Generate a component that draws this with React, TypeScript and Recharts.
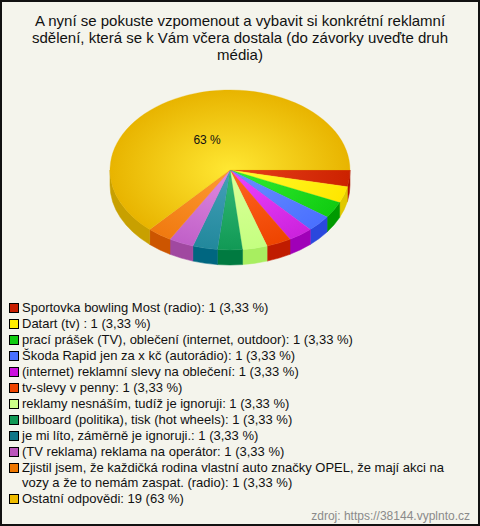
import React from 'react';
import { PieChart, Pie, Cell, Legend } from 'recharts';

const labels = [
  'Sportovka bowling Most (radio)',
  'Datart (tv) ',
  'prací prášek (TV), oblečení (internet, outdoor)',
  'Škoda Rapid jen za x kč (autorádio)',
  '(internet) reklamní slevy na oblečení',
  'tv-slevy v penny',
  'reklamy nesnáším, tudíž je ignoruji',
  'billboard (politika), tisk (hot wheels)',
  'je mi líto, záměrně je ignoruji.',
  '(TV reklama) reklama na operátor',
  'Zjistil jsem, že každičká rodina vlastní auto značky OPEL, že mají akci na vozy a že to nemám zaspat. (radio)',
  'Ostatní odpovědi',
];
const counts = [1, 1, 1, 1, 1, 1, 1, 1, 1, 1, 1, 19];
const percents = ['3,33 %', '3,33 %', '3,33 %', '3,33 %', '3,33 %', '3,33 %', '3,33 %', '3,33 %', '3,33 %', '3,33 %', '3,33 %', '63 %'];

// top face: [light centre, edge], side wall colour, legend marker colour
const topLight = ['#e8401c', '#ffff30', '#33ee33', '#6a90ff', '#ee44ff', '#ff6622', '#ddff99', '#33bb77', '#44a0b8', '#e08ae0', '#ff9a33', '#ffe833'];
const topEdge = ['#cc2200', '#ffe600', '#11cc11', '#4a70ff', '#cc22dd', '#ee4400', '#c4ff80', '#119955', '#22889c', '#c060c8', '#f07a10', '#e8b400'];
const sideColors = ['#b01400', '#e0c800', '#009a00', '#2a48dd', '#a000b8', '#c01c00', '#a8ee60', '#007a40', '#006680', '#a048a0', '#cc5500', '#c8a000'];
const legendColors = ['#c81e00', '#ffee00', '#11cc11', '#4a70ff', '#cc11dd', '#ee4400', '#ccff88', '#119955', '#117788', '#bb55bb', '#ee7700', '#eebb00'];

const data = labels.map((name, i) => ({ name, value: counts[i], pct: percents[i] }));

const CX = 230;
const CY = 170;
const R = 120;
const K = 0.667;
const DEPTH = 15;

const pt = (a: number, dy = 0) => {
  const rad = (a * Math.PI) / 180;
  return [CX + R * Math.cos(rad), CY + dy + R * K * Math.sin(rad)];
};

// screen angles, clockwise from 3 o'clock
const sidePath = (s: number, e: number) => {
  const [x0, y0] = pt(s);
  const [x1, y1] = pt(e);
  const [x2, y2] = pt(e, DEPTH);
  const [x3, y3] = pt(s, DEPTH);
  const large = e - s > 180 ? 1 : 0;
  return `M${x0},${y0} A${R},${R * K} 0 ${large} 1 ${x1},${y1} L${x2},${y2} A${R},${R * K} 0 ${large} 0 ${x3},${y3} Z`;
};

const Slice3D = (props: any) => {
  const { startAngle, endAngle, index } = props;
  const i = index ?? 0;
  const s = Math.min(-startAngle, -endAngle);
  const e = Math.max(-startAngle, -endAngle);
  const sides: string[] = [];
  [[0, 180], [360, 540]].forEach(([a, b]) => {
    const lo = Math.max(s, a);
    const hi = Math.min(e, b);
    if (hi > lo) sides.push(sidePath(lo, hi));
  });
  const [x0, y0] = pt(s);
  const [x1, y1] = pt(e);
  const large = e - s > 180 ? 1 : 0;
  const top = `M${CX},${CY} L${x0},${y0} A${R},${R * K} 0 ${large} 1 ${x1},${y1} Z`;
  return (
    <g>
      {sides.map((d, j) => (
        <path key={j} d={d} fill={sideColors[i]} stroke={sideColors[i]} strokeWidth={0.5} />
      ))}
      <path d={top} fill={`url(#grad${i})`} stroke={topEdge[i]} strokeWidth={0.3} />
    </g>
  );
};

const renderLabel = (p: any) => {
  if (p.percent < 0.1) return null;
  const mid = -p.midAngle;
  const rad = (mid * Math.PI) / 180;
  const x = CX + R * 0.47 * Math.cos(rad);
  const y = CY + R * K * 0.47 * Math.sin(rad) + 4;
  return (
    <text x={x} y={y} textAnchor="middle" dominantBaseline="central" fontSize={12} fill="#111" fontFamily="Liberation Sans, Arial, sans-serif">
      {p.payload.pct}
    </text>
  );
};

const renderLegend = () => (
  <div style={{ fontFamily: 'Liberation Sans, Arial, sans-serif', fontSize: 13, color: '#111', lineHeight: '15px' }}>
    {data.map((d, i) => (
      <div key={i} style={{ display: 'flex', alignItems: 'flex-start', marginBottom: 1 }}>
        <span
          style={{
            display: 'inline-block',
            width: 8,
            height: 8,
            border: '1px solid #000',
            background: legendColors[i],
            marginTop: 2.5,
            marginRight: 3,
            flexShrink: 0,
          }}
        />
        <span>{`${d.name}: ${d.value} (${d.pct})`}</span>
      </div>
    ))}
  </div>
);

export default function App() {
  return (
    <div
      style={{
        position: 'absolute',
        left: 0,
        top: 0,
        width: 476,
        height: 522,
        border: '2px solid #111',
        background: '#f4f4ec',
      }}
    >
      <div
        style={{
          position: 'absolute',
          left: 0,
          top: 10,
          width: 476,
          textAlign: 'center',
          fontFamily: 'Liberation Sans, Arial, sans-serif',
          fontSize: 15,
          lineHeight: '17px',
          color: '#111',
        }}
      >
        A nyní se pokuste vzpomenout a vybavit si konkrétní reklamní
        <br />
        sdělení, která se k Vám včera dostala (do závorky uveďte druh
        <br />
        média)
      </div>
      <div style={{ position: 'absolute', left: -2, top: -2 }}>
        <PieChart width={480} height={512}>
          <defs>
            {topLight.map((c, i) => (
              <radialGradient
                key={i}
                id={`grad${i}`}
                gradientUnits="userSpaceOnUse"
                cx={CX}
                cy={CY}
                r={R}
                gradientTransform={`translate(${CX},${CY}) scale(1,${K}) translate(${-CX},${-CY})`}
              >
                <stop offset="0%" stopColor={c} />
                <stop offset="100%" stopColor={topEdge[i]} />
              </radialGradient>
            ))}
          </defs>
          <Pie
            data={data}
            dataKey="value"
            nameKey="name"
            cx={CX}
            cy={CY}
            outerRadius={R}
            startAngle={0}
            endAngle={-360}
            stroke="none"
            isAnimationActive={false}
            shape={Slice3D}
            activeShape={Slice3D}
            inactiveShape={Slice3D}
            label={renderLabel}
            labelLine={false}
          >
            {data.map((_, i) => (
              <Cell key={i} fill={topEdge[i]} />
            ))}
          </Pie>
          <Legend
            layout="vertical"
            verticalAlign="top"
            align="left"
            content={renderLegend}
            wrapperStyle={{ left: 9, top: 300, width: 465 }}
          />
        </PieChart>
      </div>
      <div
        style={{
          position: 'absolute',
          right: 8,
          bottom: 1,
          fontFamily: 'Liberation Sans, Arial, sans-serif',
          fontSize: 12,
          color: '#8a8a8a',
        }}
      >
        zdroj: https://38144.vyplnto.cz
      </div>
    </div>
  );
}
